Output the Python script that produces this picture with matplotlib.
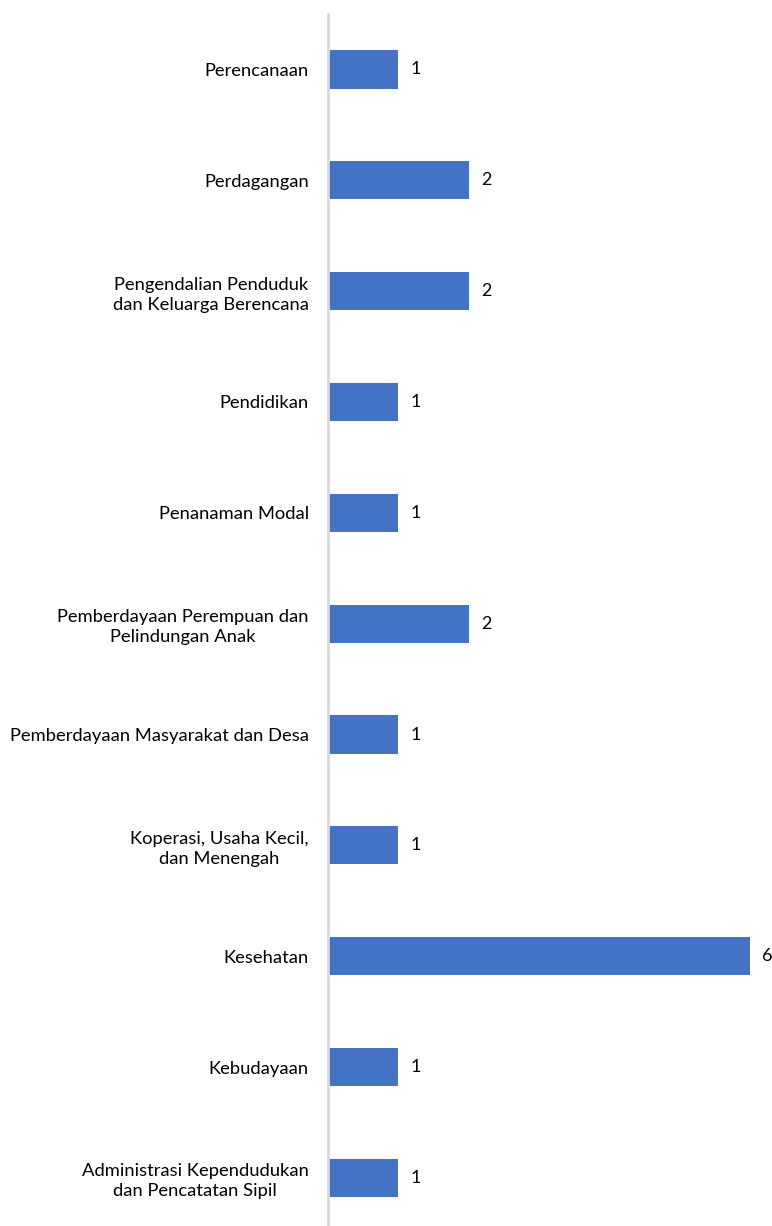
import matplotlib
matplotlib.use('Agg')
import matplotlib.pyplot as plt
import numpy as np

categories = [
    'Perencanaan',
    'Perdagangan',
    'Pengendalian Penduduk\ndan Keluarga Berencana',
    'Pendidikan',
    'Penanaman Modal',
    'Pemberdayaan Perempuan dan\nPelindungan Anak',
    'Pemberdayaan Masyarakat dan Desa',
    'Koperasi, Usaha Kecil,\ndan Menengah',
    'Kesehatan',
    'Kebudayaan',
    'Administrasi Kependudukan\ndan Pencatatan Sipil',
]
values = [1, 2, 2, 1, 1, 2, 1, 1, 6, 1, 1]

plt.rcParams['font.family'] = ['Lato', 'DejaVu Sans']

fig = plt.figure(figsize=(7.72, 12.26), dpi=100)
fig.patch.set_facecolor('white')
ax = fig.add_axes([0.425, -0.006, 0.574, 0.9946])

y = np.arange(len(categories))
ax.barh(y, values, height=0.345, color='#4472C4')

for yi, v in zip(y, values):
    ax.text(v + 0.17, yi, str(v), va='center', ha='left', fontsize=13, color='#000000')

ax.set_ylim(len(categories) - 0.5, -0.5)
ax.set_xlim(0, 6.3)
ax.set_yticks(y)
ax.set_yticklabels(categories, fontsize=13.2, color='#000000')
for lbl in ax.get_yticklabels():
    lbl.set_multialignment('center')
    lbl.set_linespacing(1.3)
ax.tick_params(axis='y', length=0, pad=14)
ax.set_xticks([])

for s in ['top', 'right', 'bottom']:
    ax.spines[s].set_visible(False)
ax.spines['left'].set_color('#d9d9d9')
ax.spines['left'].set_linewidth(2)

plt.savefig('out.png', dpi=100, facecolor='white')
plt.close(fig)
